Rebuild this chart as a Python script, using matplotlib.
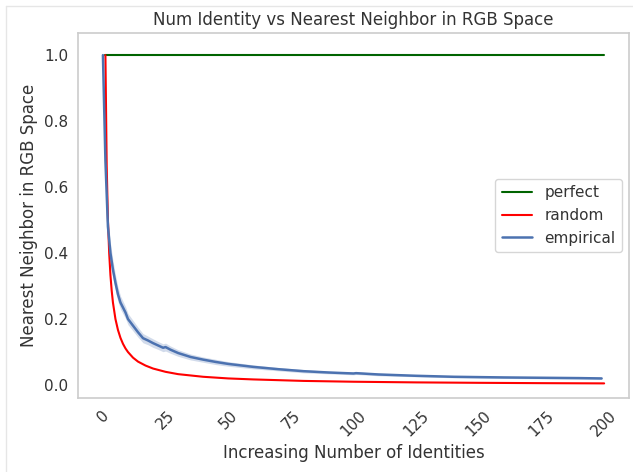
import numpy as np
import matplotlib
matplotlib.use("Agg")
import matplotlib.pyplot as plt
import seaborn as sns
from matplotlib.lines import Line2D

############################### DATA

perfect_x = [1, 200]
perfect_y = [1.0, 1.0]

random_x = [1, 1.5, 2, 2.5, 3, 3.5, 4, 5, 6, 7, 8, 9, 10, 12, 14, 17, 20, 25, 30,
            40, 50, 60, 80, 100, 125, 150, 175, 200]
random_y = [1.0, 0.667, 0.5, 0.4, 0.333, 0.286, 0.25, 0.2, 0.167, 0.143, 0.125, 0.111,
            0.1, 0.083, 0.071, 0.059, 0.05, 0.04, 0.033, 0.025, 0.02, 0.017, 0.0125,
            0.01, 0.008, 0.0067, 0.0057, 0.005]

empirical_x = [0, 1, 2, 3, 4, 5, 6, 7, 8, 9, 10, 12, 14, 16, 18, 20, 22, 24, 25, 27,
               30, 35, 40, 45, 50, 60, 70, 80, 90, 100, 101, 110, 125, 140, 150, 160,
               175, 190, 199]
empirical_y = [1.0, 0.68, 0.48, 0.40, 0.35, 0.31, 0.275, 0.25, 0.235, 0.22, 0.20, 0.18,
               0.16, 0.142, 0.135, 0.127, 0.12, 0.113, 0.115, 0.107, 0.097, 0.085, 0.077,
               0.07, 0.064, 0.055, 0.048, 0.042, 0.038, 0.035, 0.036, 0.032, 0.028,
               0.025, 0.024, 0.023, 0.022, 0.021, 0.020]
# half width of the confidence band
empirical_ci = [0.0, 0.04, 0.035, 0.03, 0.027, 0.024, 0.022, 0.02, 0.019, 0.018, 0.017,
                0.016, 0.015, 0.014, 0.013, 0.013, 0.012, 0.012, 0.012, 0.011, 0.01,
                0.009, 0.008, 0.008, 0.007, 0.006, 0.005, 0.005, 0.004, 0.004, 0.004,
                0.004, 0.003, 0.003, 0.003, 0.003, 0.003, 0.003, 0.003]

x_ticks = [0, 25, 50, 75, 100, 125, 150, 175, 200]
y_ticks = [0.0, 0.2, 0.4, 0.6, 0.8, 1.0]

############################### DISPLAY

sns.set_style("white")
plt.rcParams['font.family'] = ['DejaVu Sans']

fig = plt.figure(figsize=(6.33, 4.72), dpi=100)
ax = fig.add_axes([0.123, 0.157, 0.871, 0.773])

ax.plot(perfect_x, perfect_y, color="darkgreen", linewidth=1.5, label="perfect")
ax.plot(random_x, random_y, color="red", linewidth=1.5, label="random")

emp_y = np.array(empirical_y)
emp_ci = np.array(empirical_ci)
ax.fill_between(empirical_x, emp_y - emp_ci, emp_y + emp_ci, color="#4c72b0",
                alpha=0.25, linewidth=0)
ax.plot(empirical_x, empirical_y, color="#4c72b0", linewidth=1.8, label="empirical")

ax.set_xticks(x_ticks)
ax.set_yticks(y_ticks)
ax.set_ylim(-0.039, 1.067)
ax.set_xticklabels([str(t) for t in x_ticks], rotation=45)
ax.tick_params(axis="both", labelsize=11, colors="#333333")

for s in ax.spines.values():
    s.set_color("#cccccc")
    s.set_linewidth(1.2)

ax.set_title("Num Identity vs Nearest Neighbor in RGB Space", fontsize=12, color="#333333")
ax.set_xlabel("Increasing Number of Identities", fontsize=12, color="#333333")
ax.set_ylabel("Nearest Neighbor in RGB Space", fontsize=12, color="#333333")

leg = ax.legend(loc="center right", fontsize=11, frameon=True)
leg.get_frame().set_edgecolor("#cccccc")
for t in leg.get_texts():
    t.set_color("#333333")

# faint screenshot border
fig.add_artist(Line2D([0.009, 0.009], [0, 0.987], color="#e6e6e6", linewidth=1))
fig.add_artist(Line2D([0.009, 1.0], [0.987, 0.987], color="#e6e6e6", linewidth=1))

plt.savefig("out.png", dpi=100)
